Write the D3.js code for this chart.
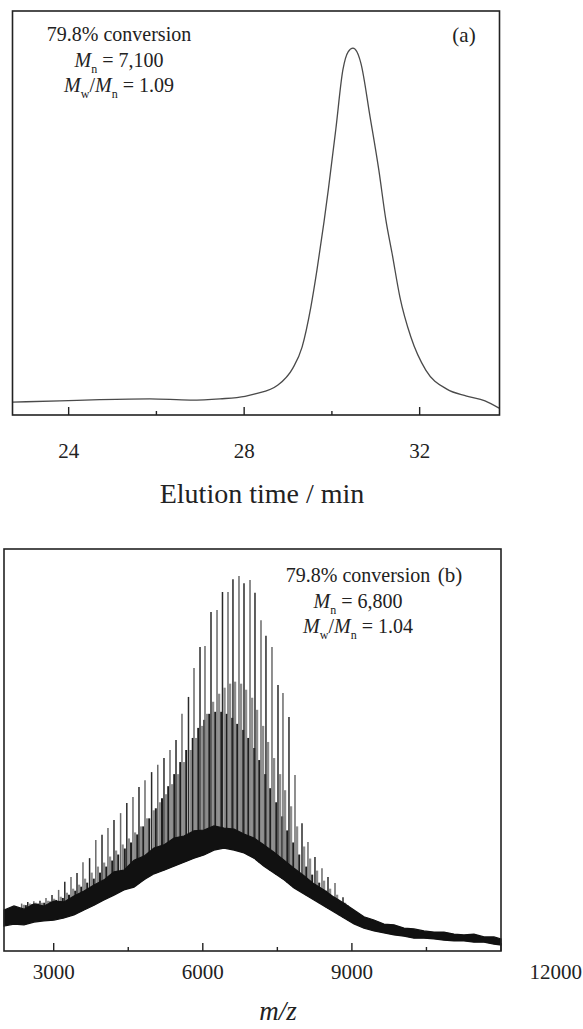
<!DOCTYPE html>
<html lang="en">
<head>
<meta charset="UTF-8">
<title>SEC trace and MALDI-TOF spectrum</title>
<script src="https://d3js.org/d3.v7.min.js"></script>
<style>
  body { margin: 0; background: #fff; }
  text { font-family: "Liberation Serif", "Times New Roman", serif; fill: #222; }
</style>
</head>
<body>
<script>
// ---- (a) SEC trace: elution time (min) vs detector response ----
const secTime = [22.72, 23.8, 24.71, 25.85, 26.77, 27.45, 28.02, 28.25, 28.77, 29.11, 29.32, 29.52,
  29.66, 29.82, 29.92, 30.09, 30.25, 30.37, 30.48, 30.57, 30.66, 30.87, 31.07, 31.23, 31.37, 31.55,
  31.8, 32.14, 32.62, 33.07, 33.49, 33.81];
const secSignal = [3.2, 3.5, 3.8, 4.0, 3.7, 4.0, 4.6, 5.2, 7.4, 11.6, 16.8, 26.7,
  35.9, 47.8, 55.9, 70.8, 85.4, 89.9, 90.8, 89.9, 87.1, 73.8, 60.6, 48.3, 40.1, 29.2,
  19.3, 11.1, 6.4, 4.7, 3.5, 1.7];
const secTicks = [24, 28, 32];
const secMinorTicks = [26, 30];

// ---- (b) MALDI-TOF: m/z vs intensity ----
// noisy baseline hump (upper / lower edge)
const bandMz = [2000, 2201, 2402, 2604, 2805, 3006, 3207, 3408, 3610, 3811, 4012, 4213, 4414, 4616,
  4817, 5018, 5219, 5420, 5622, 5823, 6024, 6225, 6426, 6628, 6829, 7030, 7231, 7432, 7634, 7835,
  8036, 8237, 8438, 8640, 8841, 9042, 9243, 9444, 9646, 9847, 10048, 10249, 10450, 10652, 10853,
  11054, 11255, 11456, 11658, 11859, 12000];
const bandHi = [10.2, 11.2, 10.4, 11.7, 11.2, 12.4, 12.2, 13.7, 14.9, 16.4, 17.7, 19.7, 20.1, 22.6,
  23.6, 25.6, 26.4, 28.1, 28.6, 29.9, 30.1, 31.1, 30.6, 30.3, 29.1, 28.1, 26.4, 24.6, 22.6, 20.6,
  18.7, 16.7, 15.2, 13.4, 11.9, 10.2, 8.5, 7.7, 6.7, 6.5, 5.7, 5.5, 5.0, 4.7, 4.7,
  4.2, 4.0, 4.2, 3.5, 3.5, 3.0];
const bandLo = [6.2, 6.7, 6.5, 7.2, 7.5, 7.7, 8.2, 9.0, 10.2, 11.4, 12.7, 13.9, 15.2, 15.9,
  17.7, 19.2, 20.1, 21.1, 22.1, 23.1, 23.9, 25.1, 25.6, 25.1, 24.4, 23.1, 21.1, 19.4, 17.7, 15.7,
  14.2, 12.7, 11.2, 9.7, 8.2, 6.7, 5.7, 5.0, 4.5, 4.0, 3.7, 3.2, 3.2, 3.0, 2.7,
  2.5, 2.5, 2.2, 2.2, 1.7, 1.5];

// main oligomer series
const peakMz = [2355, 2478, 2600, 2724, 2845, 2966, 3099, 3223, 3348, 3469, 3589, 3722, 3847, 3972,
  4092, 4213, 4346, 4471, 4595, 4716, 4837, 4970, 5094, 5219, 5340, 5461, 5581, 5712, 5823, 5944,
  6044, 6165, 6286, 6396, 6507, 6607, 6728, 6829, 6950, 7050, 7171, 7271, 7392, 7513, 7613, 7734,
  7855, 7996, 8116, 8257, 8398, 8519, 8660, 8821, 8921, 9042, 9163];
const tallPeaks = [11.8, 12.2, 12.4, 12.5, 13.2, 13.9, 15.2, 17.2, 18.4, 19.4, 22.1, 23.1, 27.6, 28.9,
  30.6, 32.6, 34.3, 36.8, 38.3, 40.8, 42.5, 44.5, 46.3, 48.0, 50.0, 52.5, 59.0, 63.2, 70.4, 75.6,
  75.9, 84.3, 84.8, 89.3, 89.3, 92.5, 93.3, 91.5, 92.3, 89.1, 82.3, 78.4, 75.6, 66.2, 64.2, 58.2,
  43.8, 31.8, 27.1, 23.4, 20.6, 18.4, 16.9, 13.4, 11.4, 10.2, 9.2];
// minor series (shifted by end-group mass difference)
const grayShift = 43;
const grayPeaks = [11.5, 11.8, 12, 12, 12.5, 13, 13.5, 14.5, 15.5, 16.5, 18, 19.5, 21, 22, 23.5, 25,
  26.5, 28, 29.5, 31, 33, 35, 37, 39, 41.5, 44, 47, 50, 53, 56, 59, 62, 64, 65.5, 66.5, 67, 66.5,
  65, 63, 60, 56, 52, 48, 44, 40, 36, 31, 26, 23, 20, 17.5, 15.5, 14, 12, 10.5, 9.5, 8.5];
const darkShift = 85;
const darkPeaks = [11.4, 11.6, 11.8, 12, 12.3, 12.7, 13.2, 14, 15, 16, 17, 18, 19.5, 21, 22.5, 24,
  25.5, 27, 29, 31, 33, 35.5, 38, 41, 44, 47, 50, 53, 55.5, 57.5, 59, 59.5, 59.5, 59, 58, 56.5,
  55, 53, 50.5, 47.5, 44, 40.5, 37, 33.5, 30, 27, 24, 21, 19, 17, 15, 13.5, 12.5, 11, 9.8, 9, 8.3];
const msTicks = [3000, 6000, 9000, 12000];
const msMinorTicks = [4500, 7500, 10500];

const W = 583, H = 1029;
const svg = d3.select("body").append("svg")
  .attr("width", W).attr("height", H)
  .style("display", "block");

const ink = "#222";

// ================= panel (a) =================
const a = { left: 12.5, right: 499.5, top: 11, bottom: 415 };
const xA = d3.scaleLinear().domain([22.72, 33.82]).range([a.left, a.right]);
const yA = d3.scaleLinear().domain([0, 100]).range([a.bottom, a.top]);

const secData = secTime.map((t, i) => ({ t, v: secSignal[i] }));
svg.append("path")
  .datum(secData)
  .attr("fill", "none")
  .attr("stroke", "#4a4a4a")
  .attr("stroke-width", 1.3)
  .attr("d", d3.line().x(d => xA(d.t)).y(d => yA(d.v)).curve(d3.curveMonotoneX));

svg.append("rect")
  .attr("x", a.left).attr("y", a.top)
  .attr("width", a.right - a.left).attr("height", a.bottom - a.top)
  .attr("fill", "none").attr("stroke", ink).attr("stroke-width", 1.6);

// inward ticks
svg.append("g").selectAll("line").data(secTicks).join("line")
  .attr("x1", d => xA(d)).attr("x2", d => xA(d))
  .attr("y1", a.bottom).attr("y2", a.bottom - 8)
  .attr("stroke", ink).attr("stroke-width", 1.4);
svg.append("g").selectAll("line").data(secMinorTicks).join("line")
  .attr("x1", d => xA(d)).attr("x2", d => xA(d))
  .attr("y1", a.bottom).attr("y2", a.bottom - 4)
  .attr("stroke", ink).attr("stroke-width", 1.4);
svg.append("g").selectAll("text").data(secTicks).join("text")
  .attr("x", d => xA(d)).attr("y", 458)
  .attr("text-anchor", "middle").attr("font-size", 21)
  .text(d => d);

svg.append("text")
  .attr("x", 262).attr("y", 503)
  .attr("text-anchor", "middle").attr("font-size", 28)
  .text("Elution time / min");

// annotations
function annot(g, x, y, lines) {
  lines.forEach((parts, i) => {
    const t = g.append("text")
      .attr("x", x).attr("y", y + i * 25.5)
      .attr("text-anchor", "middle").attr("font-size", 20);
    parts.forEach(p => {
      const s = t.append("tspan").text(p.s);
      if (p.it) s.attr("font-style", "italic");
      if (p.sub) s.attr("font-size", 12).attr("dy", 6);
      if (p.up) s.attr("dy", -6);
    });
  });
}
annot(svg, 119, 41, [
  [{ s: "79.8% conversion" }],
  [{ s: "M", it: true }, { s: "n", sub: true }, { s: " = 7,100", up: true }],
  [{ s: "M", it: true }, { s: "w", sub: true }, { s: "/", up: true }, { s: "M", it: true }, { s: "n", sub: true }, { s: " = 1.09", up: true }]
]);
svg.append("text").attr("x", 464).attr("y", 42)
  .attr("text-anchor", "middle").attr("font-size", 21).text("(a)");

// ================= panel (b) =================
const b = { left: 4, right: 501, top: 549, bottom: 951 };
const xB = d3.scaleLinear().domain([2000, 12000]).range([b.left, b.right]);
const yB = d3.scaleLinear().domain([0, 100]).range([b.bottom, b.top]);
const baseLo = d3.scaleLinear().domain(bandMz).range(bandLo);

const peaksG = svg.append("g");
function spikes(heights, shift, color, width) {
  peaksG.append("g").selectAll("line").data(heights).join("line")
    .attr("x1", (d, i) => xB(peakMz[i] + shift))
    .attr("x2", (d, i) => xB(peakMz[i] + shift))
    .attr("y1", (d, i) => yB(baseLo(peakMz[i] + shift)))
    .attr("y2", d => yB(d))
    .attr("stroke-width", width)
    .attr("stroke", (d, i) => typeof color === "function" ? color(i) : color);
}
spikes(grayPeaks, grayShift, "#8c8c8c", 2.2);
spikes(darkPeaks, darkShift, "#1e1e1e", 2.0);
spikes(tallPeaks, 0, i => (i % 2 ? "#2a2a2a" : "#6a6a6a"), 1.5);

const bandData = bandMz.map((m, i) => ({ m, hi: bandHi[i], lo: bandLo[i] }));
svg.append("path")
  .datum(bandData)
  .attr("fill", "#111")
  .attr("stroke", "#111")
  .attr("stroke-width", 1.2)
  .attr("d", d3.area().x(d => xB(d.m)).y0(d => yB(d.lo)).y1(d => yB(d.hi)));

svg.append("rect")
  .attr("x", b.left).attr("y", b.top)
  .attr("width", b.right - b.left).attr("height", b.bottom - b.top)
  .attr("fill", "none").attr("stroke", ink).attr("stroke-width", 1.6);

svg.append("g").selectAll("line").data(msTicks).join("line")
  .attr("x1", d => xB(d)).attr("x2", d => xB(d))
  .attr("y1", b.bottom).attr("y2", b.bottom - 8)
  .attr("stroke", ink).attr("stroke-width", 1.4);
svg.append("g").selectAll("line").data(msMinorTicks).join("line")
  .attr("x1", d => xB(d)).attr("x2", d => xB(d))
  .attr("y1", b.bottom).attr("y2", b.bottom - 4)
  .attr("stroke", ink).attr("stroke-width", 1.4);
// the last label sits past the frame edge, as in the original figure
svg.append("g").selectAll("text").data(msTicks).join("text")
  .attr("x", (d, i) => i === msTicks.length - 1 ? W - 1 : xB(d))
  .attr("y", 979)
  .attr("text-anchor", (d, i) => i === msTicks.length - 1 ? "end" : "middle")
  .attr("font-size", 21)
  .text(d => d);

svg.append("text")
  .attr("x", 278).attr("y", 1020)
  .attr("text-anchor", "middle").attr("font-size", 27)
  .attr("font-style", "italic")
  .text("m/z");

annot(svg, 358, 582, [
  [{ s: "79.8% conversion" }],
  [{ s: "M", it: true }, { s: "n", sub: true }, { s: " = 6,800", up: true }],
  [{ s: "M", it: true }, { s: "w", sub: true }, { s: "/", up: true }, { s: "M", it: true }, { s: "n", sub: true }, { s: " = 1.04", up: true }]
]);
svg.append("text").attr("x", 450).attr("y", 582)
  .attr("text-anchor", "middle").attr("font-size", 21).text("(b)");
</script>
</body>
</html>
